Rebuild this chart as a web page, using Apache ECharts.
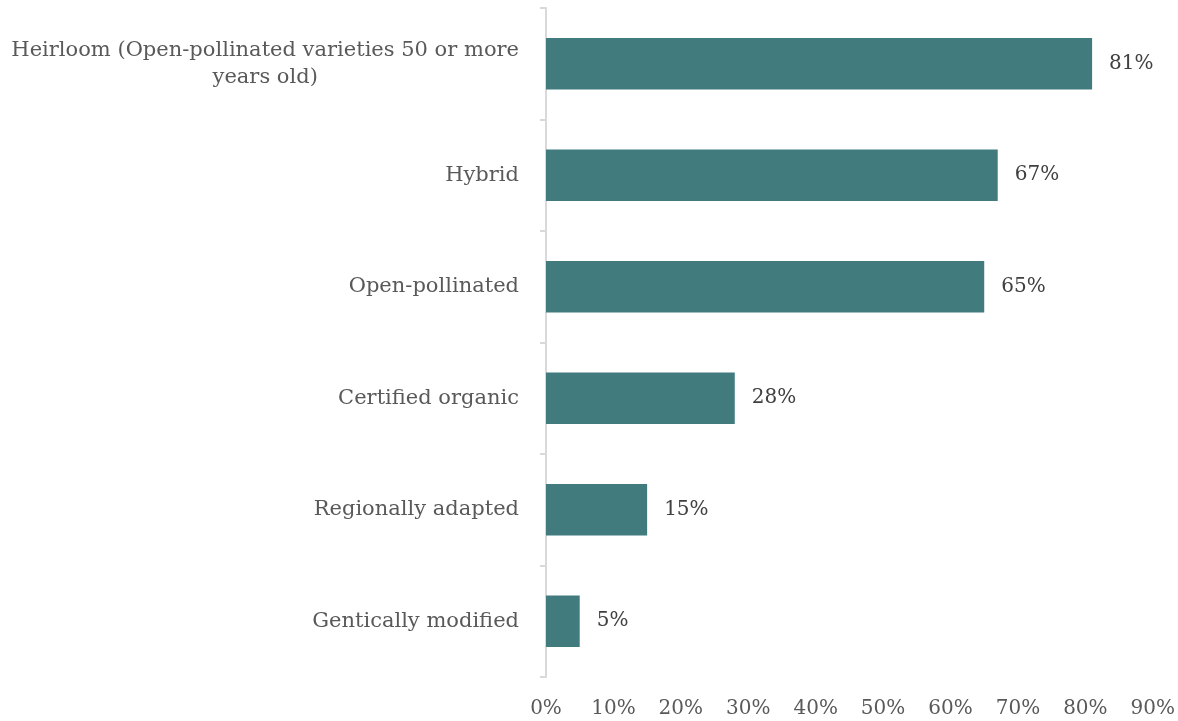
<!DOCTYPE html>
<html>
<head>
<meta charset="utf-8">
<script src="https://cdn.jsdelivr.net/npm/echarts@6/dist/echarts.min.js"></script>
<style>
  html, body { margin: 0; padding: 0; background: #ffffff; }
  #chart { width: 1178px; height: 721px; }
</style>
</head>
<body>
<div id="chart"></div>
<script>
// Seed types, listed top to bottom
const categories = [
  'Heirloom (Open-pollinated varieties 50 or more\nyears old)',
  'Hybrid',
  'Open-pollinated',
  'Certified organic',
  'Regionally adapted',
  'Gentically modified'
];
// Share of respondents, percent
const shares = [81, 67, 65, 28, 15, 5];
// Horizontal axis ticks, percent
const axisTicks = [0, 10, 20, 30, 40, 50, 60, 70, 80, 90];

const FONT = '"DejaVu Serif", "Liberation Serif", serif';

const chart = echarts.init(document.getElementById('chart'));
chart.setOption({
  animation: false,
  grid: { left: 546, right: 24, top: 8, bottom: 44, containLabel: false },
  xAxis: {
    type: 'value',
    min: axisTicks[0],
    max: axisTicks[axisTicks.length - 1],
    interval: 10,
    splitLine: { show: false },
    axisLine: { show: false },
    axisTick: { show: false },
    axisLabel: {
      formatter: v => v + '%',
      color: '#595959',
      fontFamily: FONT,
      fontSize: 20,
      margin: 22
    }
  },
  yAxis: {
    type: 'category',
    inverse: true,
    data: categories,
    axisLine: { show: true, lineStyle: { color: '#d9d9d9', width: 2 } },
    axisTick: { show: true, length: 6, lineStyle: { color: '#d9d9d9', width: 2 } },
    axisLabel: {
      color: '#595959',
      fontFamily: FONT,
      fontSize: 21,
      margin: 27,
      lineHeight: 27,
      formatter: v => '{c|' + v.split('\n').join('}\n{c|') + '}',
      rich: { c: { align: 'center', color: '#595959', fontFamily: FONT, fontSize: 21, lineHeight: 27 } }
    }
  },
  series: [{
    type: 'bar',
    data: shares,
    barCategoryGap: '54%',
    itemStyle: { color: '#417b7e' },
    label: {
      show: true,
      position: 'right',
      distance: 17,
      formatter: p => p.value + '%',
      color: '#404040',
      fontFamily: FONT,
      fontSize: 20
    }
  }]
});
</script>
</body>
</html>
